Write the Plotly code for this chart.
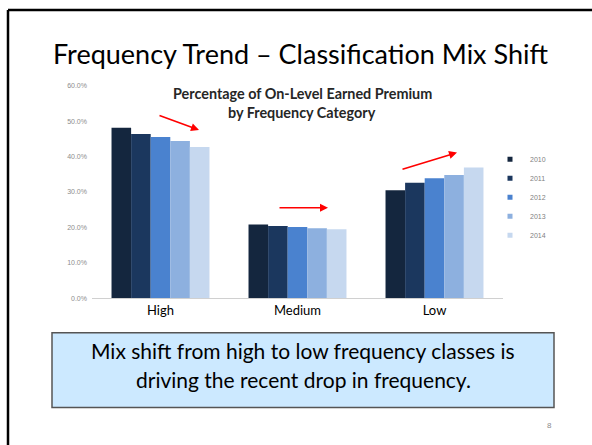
import plotly.graph_objects as go

W, H = 592, 445

categories = ["High", "Medium", "Low"]
years = ["2010", "2011", "2012", "2013", "2014"]
values = {
    "2010": [0.481, 0.208, 0.305],
    "2011": [0.464, 0.204, 0.326],
    "2012": [0.455, 0.201, 0.339],
    "2013": [0.444, 0.198, 0.348],
    "2014": [0.427, 0.195, 0.369],
}
colors = ["#14263E", "#1B375E", "#4A82CF", "#8DB0DF", "#C6D8EF"]
y_ticks = [0, 0.1, 0.2, 0.3, 0.4, 0.5, 0.6]

slide_title = "Frequency Trend – Classification Mix Shift"
chart_title = ["Percentage of On-Level Earned Premium", "by Frequency Category"]
box_text = ["Mix shift from high to low frequency classes is",
            "driving the recent drop in frequency."]

def px(x):
    return x / W

def py(y):
    return 1 - y / H

fig = go.Figure()
for yr, c in zip(years, colors):
    fig.add_trace(go.Bar(x=categories, y=values[yr], name=yr, legendgroup=yr,
                         showlegend=False,
                         marker=dict(color=c, line=dict(width=0))))
# small square legend symbols, tied to the bar traces
for yr, c in zip(years, colors):
    fig.add_trace(go.Scatter(x=[None], y=[None], mode="markers", name=yr,
                             legendgroup=yr, showlegend=True,
                             marker=dict(symbol="square", size=5, color=c)))

# arrows: (tail_x, tail_y, head_x, head_y) in pixels
arrows = [(158, 113, 199, 128), (278, 207, 328, 207), (401, 168, 457, 151)]

annotations = []
for tx, ty, hx, hy in arrows:
    annotations.append(dict(x=px(hx), y=py(hy), xref="paper", yref="paper",
                            ax=tx - hx, ay=ty - hy, axref="pixel", ayref="pixel",
                            text="", showarrow=True, arrowhead=2, arrowsize=1,
                            arrowwidth=1.6, arrowcolor="#FF0000"))

annotations.append(dict(x=px(300), y=py(50), xref="paper", yref="paper",
                        xanchor="center", yanchor="middle",
                        text=slide_title, showarrow=False,
                        font=dict(family="Lato", size=27, color="#000000")))
for i, t in enumerate(chart_title):
    annotations.append(dict(x=px(302), y=py(91 + 19 * i), xref="paper", yref="paper",
                            xanchor="center", yanchor="middle",
                            text="<b>" + t + "</b>", showarrow=False,
                            font=dict(family="Lato", size=14.4, color="#262626")))
for i, t in enumerate(box_text):
    annotations.append(dict(x=px(303), y=py(352 + 30 * i), xref="paper", yref="paper",
                            xanchor="center", yanchor="middle",
                            text=t, showarrow=False,
                            font=dict(family="Lato", size=21, color="#000000")))
annotations.append(dict(x=px(549), y=py(428), xref="paper", yref="paper",
                        xanchor="center", yanchor="middle",
                        text="8", showarrow=False,
                        font=dict(family="Liberation Sans", size=8, color="#8c8c8c")))

shapes = [
    dict(type="rect", xref="paper", yref="paper",
         x0=px(52), x1=px(554), y0=py(334), y1=py(410),
         fillcolor="#CCE9FF", line=dict(color="#555555", width=1.5), layer="below"),
    dict(type="line", xref="paper", yref="paper",
         x0=px(8), x1=px(600), y0=py(6), y1=py(6),
         line=dict(color="#000000", width=2.5)),
    dict(type="line", xref="paper", yref="paper",
         x0=px(8), x1=px(8), y0=py(6), y1=py(460),
         line=dict(color="#000000", width=2.5)),
]

fig.update_layout(
    width=W, height=H,
    margin=dict(l=0, r=0, t=0, b=0),
    paper_bgcolor="white", plot_bgcolor="white",
    barmode="group", bargap=0.285, bargroupgap=0,
    xaxis=dict(domain=[px(92), px(503)], showline=True, linecolor="#d0d0d0",
               linewidth=1, ticks="", showgrid=False,
               tickfont=dict(family="Lato", size=13, color="#000000")),
    yaxis=dict(domain=[py(299), py(83)], range=[0, 0.6], tickvals=y_ticks,
               tickformat=".1%", showgrid=False, zeroline=False, showline=False,
               ticks="", ticklabelstandoff=4,
               tickfont=dict(family="Liberation Sans", size=7, color="#8c8c8c")),
    legend=dict(x=px(490), y=py(143), xanchor="left", yanchor="top",
                font=dict(family="Liberation Sans", size=7, color="#7f7f7f"),
                itemwidth=30, tracegroupgap=0, bgcolor="rgba(0,0,0,0)",
                itemclick=False, itemdoubleclick=False),
    annotations=annotations,
    shapes=shapes,
    showlegend=True,
)

fig.write_html("out.html",
               config={"displayModeBar": False},
               post_script="document.body.style.margin='0';"
                           "document.body.style.overflow='hidden';")
